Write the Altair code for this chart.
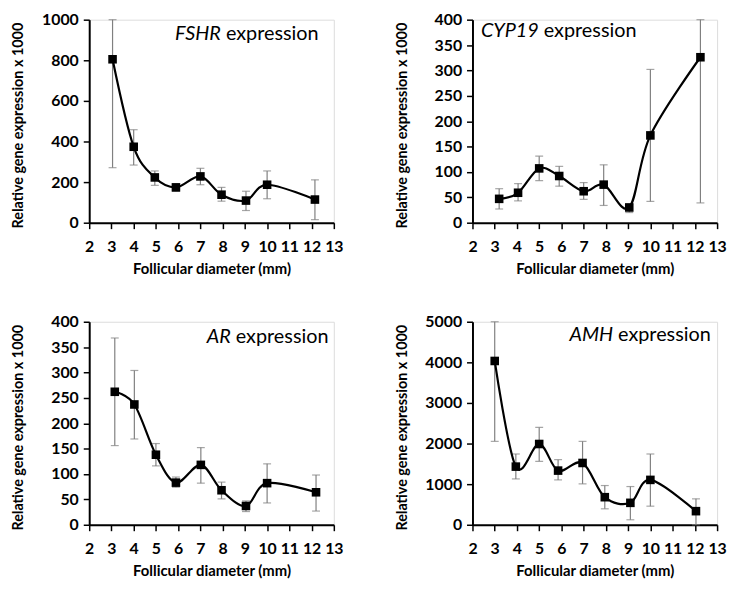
import altair as alt
import pandas as pd

FONT = "Lato"

# ---- data ----
fshr_x = [3.05, 4.0, 4.95, 5.9, 7.0, 7.95, 9.05, 10.0, 12.15]
fshr_y = [805, 374, 223, 174, 228, 138, 109, 187, 114]
fshr_lo = [271, 284, 184, 155, 187, 106, 60, 118, 15]
fshr_hi = [1000, 458, 255, 190, 268, 174, 155, 255, 211]

cyp_x = [3.2, 4.05, 5.0, 5.9, 7.0, 7.9, 9.05, 10.0, 12.25]
cyp_y = [47, 59, 107, 92, 62, 75, 30, 172, 326]
cyp_lo = [27, 43, 83, 72, 46, 34, 20, 42, 39]
cyp_hi = [67, 77, 131, 111, 79, 114, 37, 302, 400]

ar_x = [3.15, 4.03, 5.0, 5.9, 7.02, 7.95, 9.05, 10.0, 12.2]
ar_y = [262, 237, 138, 83, 118, 68, 37, 82, 64]
ar_lo = [156, 169, 116, 74, 82, 51, 26, 43, 27]
ar_hi = [368, 304, 160, 94, 152, 84, 47, 120, 98]

amh_x = [3.0, 3.95, 5.0, 5.85, 6.95, 7.95, 9.1, 10.0, 12.05]
amh_y = [4034, 1432, 1989, 1334, 1522, 679, 540, 1105, 335]
amh_lo = [2054, 1129, 1563, 1105, 1007, 393, 123, 458, 0]
amh_hi = [5000, 1743, 2398, 1604, 2054, 966, 941, 1743, 638]

x_ticks = [2, 3, 4, 5, 6, 7, 8, 9, 10, 11, 12, 13]
x_title = "Follicular diameter (mm)"
y_title = "Relative gene expression x 1000"

W, H = 247, 205


def panel(xs, ys, lo, hi, ymax, ystep, gene, gene_end, title_y):
    df = pd.DataFrame({"x": xs, "y": ys, "lo": lo, "hi": hi})
    xsc = alt.Scale(domain=[2, 13], nice=False, zero=False)
    ysc = alt.Scale(domain=[0, ymax], nice=False)
    yticks = list(range(0, ymax + 1, ystep))
    xax = alt.Axis(values=x_ticks, title=x_title, grid=False, domainColor="black",
                   domainWidth=2, tickColor="black", tickSize=6, tickWidth=1.5,
                   labelFont=FONT, labelFontSize=16, labelFontWeight="bold",
                   labelColor="black", labelPadding=10, titleFont=FONT,
                   titleFontSize=15, titleFontWeight="bold", titleColor="black",
                   titlePadding=7, labelFlush=False, labelOverlap=False, format="d",
                   tickCount=12)
    yax = alt.Axis(values=yticks, title=y_title, grid=False, domainColor="black",
                   domainWidth=2, tickColor="black", tickSize=6, tickWidth=1.5,
                   labelFont=FONT, labelFontSize=16, labelFontWeight="bold",
                   labelColor="black", labelPadding=5, titleFont=FONT,
                   titleFontSize=14.5, titleFontWeight="bold", titleColor="black",
                   titleX=-64, titleY=H / 2 + 4, titleAngle=270,
                   titleBaseline="bottom", titleAlign="center", labelFlush=False,
                   labelOverlap=False, format="d", tickCount=len(yticks))

    def X():
        return alt.X("x:Q", scale=xsc, axis=xax)

    def Y(f):
        return alt.Y(f, scale=ysc, axis=yax)

    base = alt.Chart(df)
    rules = base.mark_rule(color="#808080", strokeWidth=1.2).encode(
        x=X(), y=Y("lo:Q"), y2="hi:Q")
    cap_lo = base.mark_tick(color="#808080", orient="horizontal", size=8, thickness=1.2).encode(
        x=X(), y=Y("lo:Q"))
    cap_hi = base.mark_tick(color="#808080", orient="horizontal", size=8, thickness=1.2).encode(
        x=X(), y=Y("hi:Q"))
    line = base.mark_line(color="black", strokeWidth=2.2, interpolate="cardinal").encode(
        x=X(), y=Y("y:Q"))
    pts = base.mark_square(color="black", size=75, opacity=1).encode(x=X(), y=Y("y:Q"))
    t1 = alt.Chart(pd.DataFrame({"t": [gene]})).mark_text(
        font=FONT, fontSize=20, fontStyle="italic", align="right", baseline="middle",
        color="black").encode(text="t:N", x=alt.value(gene_end), y=alt.value(title_y))
    t2 = alt.Chart(pd.DataFrame({"t": ["expression"]})).mark_text(
        font=FONT, fontSize=20, align="left", baseline="middle",
        color="black").encode(text="t:N", x=alt.value(gene_end + 5), y=alt.value(title_y))
    return alt.layer(rules, cap_lo, cap_hi, line, pts, t1, t2).properties(width=W, height=H)


p1 = panel(fshr_x, fshr_y, fshr_lo, fshr_hi, 1000, 200, "FSHR", 133, 15)
p2 = panel(cyp_x, cyp_y, cyp_lo, cyp_hi, 400, 50, "CYP19", 67, 11)
p3 = panel(ar_x, ar_y, ar_lo, ar_hi, 400, 50, "AR", 143, 15)
p4 = panel(amh_x, amh_y, amh_lo, amh_hi, 5000, 1000, "AMH", 142, 13)

chart = alt.vconcat(
    alt.hconcat(p1, p2, spacing=50),
    alt.hconcat(p3, p4, spacing=50),
    spacing=36,
).properties(padding={"left": 2, "top": 0, "right": 0, "bottom": 0}).configure_view(
    stroke=None).configure(background="white")

chart.save("out.html", embed_options={"renderer": "svg", "actions": False})
